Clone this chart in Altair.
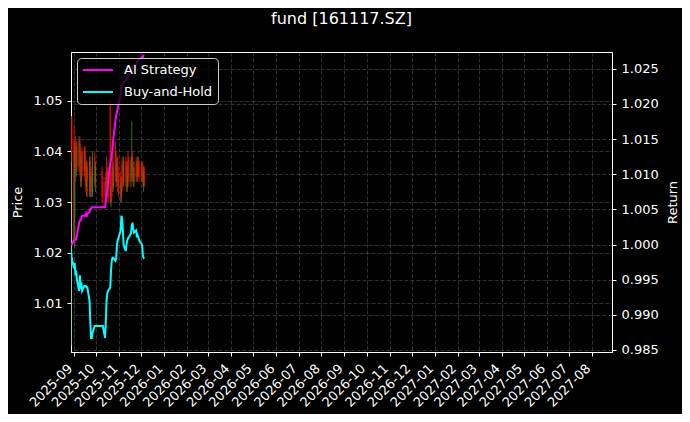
import altair as alt
import pandas as pd

# ---- data ----
holidays = ['2025-10-01', '2025-10-02', '2025-10-03', '2025-10-06', '2025-10-07', '2025-10-08']
dates = [d.strftime('%Y-%m-%d') for d in pd.bdate_range('2025-08-28', '2025-12-05')
         if d.strftime('%Y-%m-%d') not in holidays]

open_ = [1.030, 1.0465, 1.042, 1.022, 1.041, 1.036, 1.041, 1.037, 1.042, 1.040,
         1.034, 1.040, 1.036, 1.040, 1.038, 1.033, 1.037, 1.033, 1.038, 1.032,
         1.036, 1.032, 1.039, 1.034, 1.036, 1.034, 1.031, 1.035, 1.038, 1.033,
         1.036, 1.049, 1.030, 1.036, 1.038, 1.033, 1.041, 1.039, 1.034, 1.038,
         1.036, 1.035, 1.031, 1.038, 1.037, 1.034, 1.038, 1.037, 1.033, 1.039,
         1.038, 1.034, 1.036, 1.039, 1.037, 1.034, 1.038, 1.037, 1.035, 1.038,
         1.037, 1.037, 1.035, 1.037, 1.033, 1.036]
close = [1.0465, 1.040, 1.022, 1.040, 1.036, 1.041, 1.037, 1.042, 1.036, 1.034,
         1.039, 1.036, 1.040, 1.035, 1.033, 1.037, 1.034, 1.038, 1.032, 1.035,
         1.032, 1.039, 1.034, 1.037, 1.031, 1.031, 1.034, 1.030, 1.033, 1.036,
         1.0305, 1.030, 1.033, 1.031, 1.033, 1.037, 1.035, 1.034, 1.038, 1.033,
         1.032, 1.031, 1.034, 1.033, 1.034, 1.038, 1.034, 1.033, 1.037, 1.035,
         1.034, 1.038, 1.039, 1.035, 1.034, 1.037, 1.035, 1.035, 1.038, 1.036,
         1.035, 1.035, 1.037, 1.034, 1.036, 1.034]
high = [1.047, 1.047, 1.045, 1.042, 1.043, 1.042, 1.042, 1.043, 1.043, 1.041,
        1.040, 1.041, 1.041, 1.041, 1.039, 1.038, 1.038, 1.039, 1.039, 1.036,
        1.037, 1.040, 1.040, 1.038, 1.037, 1.035, 1.035, 1.036, 1.039, 1.037,
        1.037, 1.050, 1.034, 1.037, 1.039, 1.038, 1.042, 1.040, 1.039, 1.039,
        1.037, 1.036, 1.035, 1.039, 1.038, 1.039, 1.039, 1.038, 1.038, 1.040,
        1.039, 1.039, 1.046, 1.040, 1.038, 1.038, 1.039, 1.038, 1.039, 1.039,
        1.038, 1.038, 1.038, 1.038, 1.037, 1.037]
low = [1.0015, 1.038, 1.0215, 1.021, 1.034, 1.035, 1.036, 1.036, 1.035, 1.033,
       1.033, 1.035, 1.035, 1.034, 1.032, 1.031, 1.031, 1.031, 1.031, 1.031,
       1.031, 1.031, 1.033, 1.032, 1.030, 1.0295, 1.030, 1.029, 1.032, 1.032,
       1.030, 1.0295, 1.029, 1.030, 1.032, 1.032, 1.034, 1.033, 1.033, 1.032,
       1.031, 1.030, 1.030, 1.032, 1.033, 1.033, 1.033, 1.032, 1.032, 1.034,
       1.033, 1.033, 1.035, 1.034, 1.033, 1.033, 1.034, 1.034, 1.034, 1.035,
       1.034, 1.034, 1.034, 1.033, 1.032, 1.033]

ai_strategy = [1.0000, 1.0000, 1.0006, 1.0006, 1.0006, 1.0009, 1.0013, 1.0031, 1.0034, 1.0034,
               1.0039, 1.0041, 1.0041, 1.0041, 1.0044, 1.0039, 1.0044, 1.0046, 1.0051, 1.0051,
               1.0053, 1.0053, 1.0053, 1.0053, 1.0053, 1.0053, 1.0053, 1.0063, 1.0070, 1.0077,
               1.0087, 1.0116, 1.0120, 1.0127, 1.0137, 1.0149, 1.0177, 1.0184, 1.0189, 1.0194,
               1.0199, 1.0213, 1.0224, 1.0227, 1.0229, 1.0231, 1.0234, 1.0234, 1.0237, 1.0239,
               1.0241, 1.0246, 1.0249, 1.0251, 1.0254, 1.0255, 1.0256, 1.0259, 1.0260, 1.0263,
               1.0263, 1.0266, 1.0267, 1.0267, 1.0269, 1.0269]
buy_hold = [0.9994, 0.9980, 0.9966, 0.9974, 0.9956, 0.9963, 0.9949, 0.9934, 0.9956, 0.9937,
            0.9946, 0.9934, 0.9941, 0.9941, 0.9941, 0.9939, 0.9939, 0.9920, 0.9891, 0.9867,
            0.9867, 0.9874, 0.9884, 0.9884, 0.9884, 0.9884, 0.9867, 0.9891, 0.9920, 0.9931,
            0.9934, 0.9939, 0.9963, 0.9977, 0.9981, 0.9981, 0.9977, 0.9980, 0.9999, 1.0006,
            1.0009, 1.0020, 1.0041, 1.0037, 1.0020, 0.9999, 0.9991, 1.0001, 1.0006, 1.0009,
            1.0010, 1.0016, 1.0027, 1.0031, 1.0023, 1.0017, 1.0020, 1.0010, 1.0013, 1.0010,
            1.0006, 1.0001, 0.9999, 0.9984, 0.9981, 0.9980]

series_names = ['AI Strategy', 'Buy-and-Hold']
series_colors = ['#ff00ff', '#00ffff']
price_ticks = [1.01, 1.02, 1.03, 1.04, 1.05]
return_ticks = [0.985, 0.990, 0.995, 1.000, 1.005, 1.010, 1.015, 1.020, 1.025]
month_ticks = [(2025, m) for m in range(9, 13)] + [(2026, m) for m in range(1, 13)] + [(2027, m) for m in range(1, 9)]

# ---- tables ----
candles = pd.DataFrame({'date': dates, 'open': open_, 'high': high, 'low': low, 'close': close})
candles['col'] = ['#2a8a1e' if c >= o else '#ff0000' for o, c in zip(open_, close)]
lines = pd.DataFrame({
    'date': dates * 2,
    'value': ai_strategy + buy_hold,
    'series': [series_names[0]] * len(dates) + [series_names[1]] * len(dates),
})

FONT = 'DejaVu Sans'
x_scale = alt.Scale(domain=[alt.DateTime(year=2025, month=8, date=28),
                            alt.DateTime(year=2027, month=8, date=28)])
x_axis = alt.X(
    'date:T', title=None, scale=x_scale,
    axis=alt.Axis(values=[alt.DateTime(year=y, month=m, date=1) for y, m in month_ticks],
                  labelExpr="timeFormat(datum.value, '%Y-%m')", labelAngle=-45,
                  labelAlign='right', labelBaseline='middle', labelOffset=-4,
                  labelPadding=10, tickSize=4, labelOverlap=False, labelBound=False,
                  grid=True),
)

price_scale = alt.Scale(domain=[1.0003, 1.0597], nice=False, zero=False)
wick = alt.Chart(candles).mark_rule(strokeWidth=1, opacity=0.85, clip=True).encode(
    x=x_axis,
    y=alt.Y('low:Q', scale=price_scale,
            axis=alt.Axis(title='Price', orient='left', values=price_ticks, format='.2f',
                          tickSize=4, labelPadding=5, titleX=-54, titleY=150,
                          titleAngle=270, titleBaseline='middle', grid=True)),
    y2='high:Q',
    color=alt.Color('col:N', scale=None),
)
body = alt.Chart(candles).mark_rule(strokeWidth=1.1, opacity=0.85, clip=True).encode(
    x=x_axis,
    y=alt.Y('open:Q', scale=price_scale, axis=None),
    y2='close:Q',
    color=alt.Color('col:N', scale=None),
)

line_layer = alt.Chart(lines).mark_line(strokeWidth=2, clip=True).encode(
    x=x_axis,
    y=alt.Y('value:Q', scale=alt.Scale(domain=[0.9847, 1.0274], nice=False, zero=False),
            axis=alt.Axis(title='Return', orient='right', values=return_ticks, format='.3f',
                          tickSize=4, labelPadding=5, titleX=60, titleY=150,
                          titleAngle=270, titleBaseline='middle', grid=True)),
    color=alt.Color('series:N', title=None,
                    scale=alt.Scale(domain=series_names, range=series_colors),
                    legend=alt.Legend(orient='none', legendX=6, legendY=6,
                                      fillColor='rgba(0,0,0,0.75)', strokeColor='#cccccc',
                                      cornerRadius=4, padding=5, symbolType='stroke',
                                      symbolStrokeWidth=2, symbolSize=900, clipHeight=14,
                                      labelFontSize=13, labelColor='white', labelFont=FONT,
                                      labelOffset=10, rowPadding=8)),
    detail='series:N',
)

chart = alt.layer(wick, body, line_layer).resolve_scale(
    y='independent', color='independent'
).properties(
    width=541, height=300,
    autosize='none',
    padding={'left': 63, 'top': 44, 'right': 70, 'bottom': 62},
    background='black',
    title=alt.TitleParams('fund [161117.SZ]', color='white', font=FONT, fontSize=16,
                          fontWeight='normal', anchor='middle', offset=25),
).configure_view(
    stroke='white', strokeWidth=1, fill='black'
).configure_axis(
    domainColor='white', tickColor='white', labelColor='white', titleColor='white',
    labelFont=FONT, titleFont=FONT, labelFontSize=13, titleFontSize=13,
    titleFontWeight='normal', gridColor='#808080', gridOpacity=0.55, gridWidth=0.7,
    gridDash=[4, 2],
)

chart.save('out.html', embed_options={'renderer': 'svg', 'actions': False})
